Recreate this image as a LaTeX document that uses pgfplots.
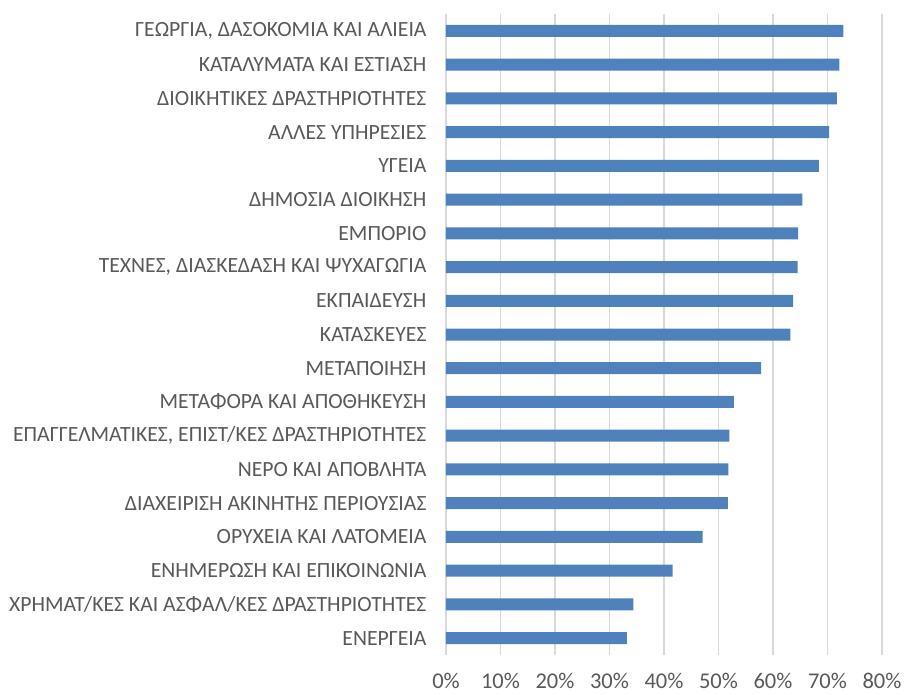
\documentclass[border=0pt]{standalone}
\usepackage{pgfplots}
\pgfplotsset{compat=1.18}
\usepackage{pgfplotstable}
\usepackage{fontspec}
\setmainfont{Carlito}
\definecolor{barblue}{HTML}{4F81BD}
\definecolor{txtgray}{HTML}{595959}
\definecolor{gridgray}{HTML}{D9D9D9}
\pgfplotstableread[col sep=comma]{
idx,val
0,72.9
1,72.2
2,71.7
3,70.3
4,68.4
5,65.4
6,64.6
7,64.5
8,63.7
9,63.2
10,57.8
11,52.8
12,52.0
13,51.8
14,51.7
15,47.1
16,41.6
17,34.4
18,33.2
}\datatable
\begin{document}
\begin{tikzpicture}
\useasboundingbox (-446pt,-40pt) rectangle (458pt,655pt);
\begin{axis}[
  at={(0,0)}, anchor=south west,
  scale only axis,
  width=436pt, height=641pt,
  xbar, bar width=12pt,
  xmin=0, xmax=80,
  ymin=-0.5, ymax=18.5,
  y dir=reverse,
  xtick={0,10,...,80},
  xticklabels={0\%,10\%,20\%,30\%,40\%,50\%,60\%,70\%,80\%},
  ytick={0,...,18},
  yticklabels={
    ΓΕΩΡΓΙΑ{,} ΔΑΣΟΚΟΜΙΑ ΚΑΙ ΑΛΙΕΙΑ,
    ΚΑΤΑΛΥΜΑΤΑ ΚΑΙ ΕΣΤΙΑΣΗ,
    ΔΙΟΙΚΗΤΙΚΕΣ ΔΡΑΣΤΗΡΙΟΤΗΤΕΣ,
    ΑΛΛΕΣ ΥΠΗΡΕΣΙΕΣ,
    ΥΓΕΙΑ,
    ΔΗΜΟΣΙΑ ΔΙΟΙΚΗΣΗ,
    ΕΜΠΟΡΙΟ,
    ΤΕΧΝΕΣ{,} ΔΙΑΣΚΕΔΑΣΗ ΚΑΙ ΨΥΧΑΓΩΓΙΑ,
    ΕΚΠΑΙΔΕΥΣΗ,
    ΚΑΤΑΣΚΕΥΕΣ,
    ΜΕΤΑΠΟΙΗΣΗ,
    ΜΕΤΑΦΟΡΑ ΚΑΙ ΑΠΟΘΗΚΕΥΣΗ,
    ΕΠΑΓΓΕΛΜΑΤΙΚΕΣ{,} ΕΠΙΣΤ/ΚΕΣ ΔΡΑΣΤΗΡΙΟΤΗΤΕΣ,
    ΝΕΡΟ ΚΑΙ ΑΠΟΒΛΗΤΑ,
    ΔΙΑΧΕΙΡΙΣΗ ΑΚΙΝΗΤΗΣ ΠΕΡΙΟΥΣΙΑΣ,
    ΟΡΥΧΕΙΑ ΚΑΙ ΛΑΤΟΜΕΙΑ,
    ΕΝΗΜΕΡΩΣΗ ΚΑΙ ΕΠΙΚΟΙΝΩΝΙΑ,
    ΧΡΗΜΑΤ/ΚΕΣ ΚΑΙ ΑΣΦΑΛ/ΚΕΣ ΔΡΑΣΤΗΡΙΟΤΗΤΕΣ,
    ΕΝΕΡΓΕΙΑ},
  yticklabel style={font=\fontsize{21.7}{24}\selectfont, text=txtgray, xshift=-16pt},
  xticklabel style={font=\fontsize{22.5}{25}\selectfont, text=txtgray, yshift=-15pt},
  major tick length=0pt,
  xmajorgrids, grid style={gridgray, line width=1.2pt},
  axis x line*=bottom,
  axis y line*=left,
  x axis line style={draw=none},
  y axis line style={gridgray, line width=1.2pt, -},
  clip=false,
]
\addplot[fill=barblue, draw=none] table[x=val, y=idx] {\datatable};
\end{axis}
\end{tikzpicture}
\end{document}
